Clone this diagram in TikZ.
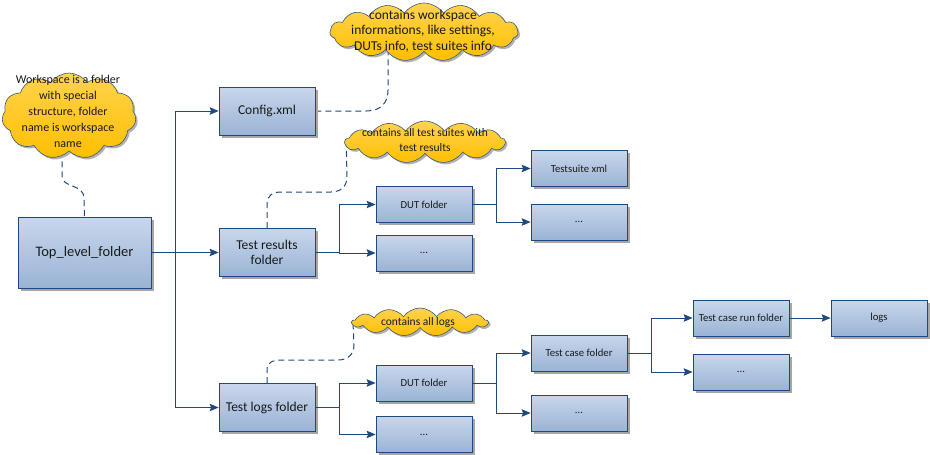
\documentclass[tikz,border=0pt]{standalone}
\usepackage{fontspec}
\setmainfont{Carlito}
\usetikzlibrary{shapes.symbols,shadows,arrows.meta,backgrounds}
\definecolor{lineblue}{HTML}{1F497D}
\definecolor{boxtop}{HTML}{C8D7EB}
\definecolor{boxbottom}{HTML}{9AB3D5}
\definecolor{cloudtop}{HTML}{FFD34E}
\definecolor{cloudbottom}{HTML}{FFBF00}
\definecolor{cloudline}{HTML}{3C5A78}
\definecolor{textdark}{HTML}{1A1A1A}

\begin{document}
\begin{tikzpicture}[x=1pt,y=1pt,yscale=-1,xscale=1,
  folder/.style={draw=lineblue,line width=0.8pt,top color=boxtop,bottom color=boxbottom,
    minimum width=96pt,minimum height=36pt,inner sep=0pt,align=center,text=textdark,
    font=\fontsize{10.7}{12}\selectfont,
    drop shadow={shadow xshift=2.5pt,shadow yshift=-2.5pt,fill=black!35,opacity=1}},
  bigfolder/.style={folder,minimum height=48pt,font=\fontsize{13.5}{15.5}\selectfont},
  note/.style={cloud,cloud puffs=#1,cloud puff arc=110,cloud ignores aspect,draw=cloudline,line width=0.6pt,
    top color=cloudtop,bottom color=cloudbottom,inner sep=0pt,
    drop shadow={shadow xshift=2pt,shadow yshift=-2pt,fill=black!30,opacity=1}},
  notetext/.style={align=center,inner sep=0pt,text=textdark,font=\fontsize{12}{15.5}\selectfont},
  conn/.style={draw=lineblue,line width=0.9pt,-{Stealth[length=9pt,width=7.5pt,inset=1.5pt]}},
  callout/.style={draw=lineblue,line width=1pt,dash pattern=on 6pt off 4pt}]
\useasboundingbox (0,0) rectangle (930,455);

% folders
\node[folder,minimum width=133pt,minimum height=71pt,font=\fontsize{14.5}{18}\selectfont] (top) at (84.5,252.5) {Top\_level\_folder};
\node[bigfolder] (config) at (267,111) {Config.xml};
\node[bigfolder] (results) at (267,252.5) {Test results\\folder};
\node[bigfolder] (logs) at (267,407.5) {Test logs folder};

\node[folder] (dutres) at (424,204.5) {DUT folder};
\node[folder] (moreres) at (424,253) {...};
\node[folder] (suite) at (579,168.5) {Testsuite xml};
\node[folder] (moresuite) at (579,222) {...};

\node[folder] (dutlogs) at (424,383) {DUT folder};
\node[folder] (morelogs) at (424,434.5) {...};
\node[folder] (case) at (579,353) {Test case folder};
\node[folder] (morecase) at (579,413) {...};
\node[folder] (run) at (741,318) {Test case run folder};
\node[folder] (morerun) at (741,372) {...};
\node[folder] (runlogs) at (879,318) {logs};

% clouds
\node[note=11,minimum width=134pt,minimum height=86pt] (wscloud) at (69,116) {};
\node[notetext,font=\fontsize{12}{16}\selectfont] (wstext) at (68,111) {Workspace is a folder\\with special\\structure, folder\\name is workspace\\name};
\node[note=15,minimum width=188pt,minimum height=58pt] (cfgcloud) at (424,32) {};
\node[notetext,font=\fontsize{13.5}{15.5}\selectfont] (cfgtext) at (423,31) {contains workspace\\informations, like settings,\\DUTs info, test suites info};
\node[note=13,minimum width=160pt,minimum height=42pt] (rescloud) at (425,142) {};
\node[notetext,font=\fontsize{11.5}{15}\selectfont] (restext) at (425,140) {contains all test suites with\\test results};
\node[note=13,minimum width=136pt,minimum height=28pt] (logcloud) at (420,322) {};
\node[notetext,font=\fontsize{11.5}{14}\selectfont] (logtext) at (418,322) {contains all logs};

% tree connectors
\draw[conn] (top.east) -- ++(24,0) |- (config.west);
\draw[conn] (top.east) -- ++(24,0) |- (results.west);
\draw[conn] (top.east) -- ++(24,0) |- (logs.west);
\draw[conn] (results.east) -- ++(24,0) |- (dutres.west);
\draw[conn] (results.east) -- ++(24,0) |- (moreres.west);
\draw[conn] (dutres.east) -- ++(24,0) |- (suite.west);
\draw[conn] (dutres.east) -- ++(24,0) |- (moresuite.west);
\draw[conn] (logs.east) -- ++(24,0) |- (dutlogs.west);
\draw[conn] (logs.east) -- ++(24,0) |- (morelogs.west);
\draw[conn] (dutlogs.east) -- ++(24,0) |- (case.west);
\draw[conn] (dutlogs.east) -- ++(24,0) |- (morecase.west);
\draw[conn] (case.east) -- ++(24,0) |- (run.west);
\draw[conn] (case.east) -- ++(24,0) |- (morerun.west);
\draw[conn] (run.east) -- (runlogs.west);

% dashed callouts
\begin{scope}[on background layer]
\draw[callout] ([xshift=-7pt]wscloud.south) -- (62,176) .. controls (62,188) and (84,184) .. (84,198) -- (top.north);
\draw[callout] (config.east) -- (366,111) .. controls (381,111) and (388,103) .. (388,90) -- ([xshift=-36pt]cfgcloud.south);
\draw[callout] (results.north) -- (267,204) .. controls (267,196) and (272,192) .. (281,192) -- (331,192) .. controls (341,192) and (347,186) .. (347,177) -- ([xshift=2pt]rescloud.west);
\draw[callout] (logs.north) -- (267,370) .. controls (267,363) and (272,360) .. (281,360) -- (338,360) .. controls (348,360) and (354,354) .. (354,345) -- ([xshift=2pt]logcloud.west);
\end{scope}
\end{tikzpicture}
\end{document}
